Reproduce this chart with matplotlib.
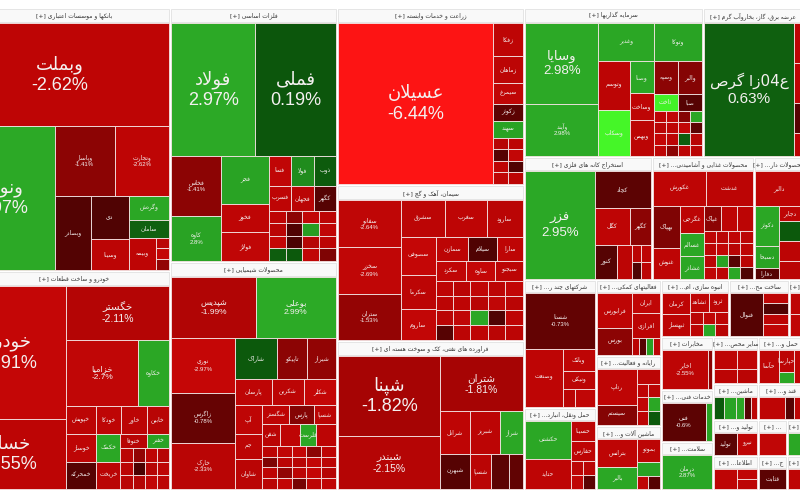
import re
import numpy as np
import matplotlib
matplotlib.use("Agg")
import matplotlib.pyplot as plt
from matplotlib.patches import Rectangle


# tree helpers: H = side by side, V = stacked, T = one symbol,
# G = rows of equal-sized symbols, S = sector with a header band
def H(*kids): return ("H", kids)
def V(*kids): return ("V", kids)
def T(pct, name="", style=None): return ("T", pct, name, style)
def G(*rows): return ("G", rows)
def S(title, body, cut=False, hdr=13): return ("S", title, body, cut, hdr)


# ---------------- data (weights = relative tile size, pct = daily change) ----
BANKS = S("بانکها و موسسات اعتباری", V(
    (103, T(-2.62, "وبملت", "big")),
    (144, H(
        (104, T(2.97, "ونوین", "big")),
        (115, V(
            (70, H((60, T(-1.41, "وپاسار", "pct")), (54, T(-2.62, "وتجارت", "pct")))),
            (74, H(
                (36, T(-0.45, "وبصادر", "lbl")),
                (38, V((43, T(-0.40, "دی", "lbl")), (31, T(-2.50, "وسینا", "lbl")))),
                (40, V((24, T(2.90, "وگردش", "lbl")), (18, T(0.70, "سامان", "lbl")),
                       (32, H((27, T(-2.60, "وبیمه", "lbl")), (13, G([-2.4], [-2.9], [-1.5])))))),
            )),
        )),
    )),
))

AUTO = S("خودرو و ساخت قطعات", H(
    (115, V((133, T(-2.91, "خودرو", "big")), (70, T(-2.55, "خساپا", "big")))),
    (103, V(
        (54, T(-2.11, "خگستر", "med")),
        (66, H((71, T(-2.70, "خزامیا", "med2")), (30, T(2.90, "خکاوه", "lbl")))),
        (83, V(
            (28, H((30, T(-2.5, "خپویش", "lbl")), (25, T(-2.6, "خودکا", "lbl")),
                   (25, T(-2.5, "خاور", "lbl")), (22, T(-2.3, "خابین", "lbl")))),
            (28, H((30, T(-2.6, "خوساز", "lbl")), (24, T(2.9, "خکمک", "lbl")),
                   (48, V((14, H((26, T(-2.3, "ختوقا", "lbl")), (22, T(2.8, "خفنر", "lbl")))),
                          (14, G([-2.4, -1.5, -2.6, -2.2])))))),
            (27, H((30, T(-0.5, "خمحرکه", "lbl")), (24, T(-2.4, "خریخت", "lbl")),
                   (48, G([-2.5, -0.3, -2.2, -2.6], [-2.4, -2.1, -2.8, -2.5])))),
        )),
    )),
))

METALS = S("فلزات اساسی", V(
    (133, H((84, T(2.97, "فولاد", "big")), (81, T(0.19, "فملی", "big")))),
    (105, H(
        (50, V((60, T(-1.41, "فخاس", "pct")), (45, T(2.80, "کاوه", "pct")))),
        (48, V((48, T(2.8, "فجر", "lbl")), (28, T(-2.6, "فخوز", "lbl")), (29, T(-2.7, "فولاژ", "lbl")))),
        (67, V(
            (30, H((22, T(-2.7, "فسا", "lbl")), (23, T(2.1, "فولا", "lbl")), (22, T(0.4, "ذوب", "lbl")))),
            (25, H((22, T(-2.6, "فسرب", "lbl")), (23, T(-2.4, "فجهان", "lbl")), (22, T(-0.5, "کگهر", "lbl")))),
            (50, G([-2.6, -1.4, -2.8, -2.5], [-2.4, -0.4, 2.6, -2.7],
                   [-2.9, -0.3, -2.2, -2.5], [0.5, 0.3, -2.7, -1.2])),
        )),
    )),
))

CHEMICAL = S("محصولات شیمیایی", V(
    (61, H((85, T(-1.99, "شپدیس", "med2")), (80, T(2.99, "بوعلی", "med2")))),
    (151, H(
        (64, V((55, T(-2.97, "نوری", "pct")), (50, T(-0.78, "زاگرس", "pct")), (46, T(-2.33, "خارک", "pct")))),
        (101, V(
            (41, H((42, T(0.3, "شاراک", "lbl")), (30, T(-1.4, "تاپیکو", "lbl")), (29, T(-1.5, "شیراز", "lbl")))),
            (26, H((37, T(-2.6, "پارسان", "lbl")), (32, T(-2.5, "شکربن", "lbl")), (32, T(-2.9, "شکلر", "lbl")))),
            (84, H(
                (27, V((29, T(-2.6, "آپ", "lbl")), (25, T(-2.5, "جم", "lbl")), (30, T(-2.4, "شاوان", "lbl")))),
                (74, V(
                    (19, H((27, T(-2.6, "شگستر", "lbl")), (25, T(-1.3, "پارس", "lbl")), (22, T(-2.5, "شسپا", "lbl")))),
                    (22, H((18, T(-2.4, "شفن", "lbl")), (20, T(-2.6)), (16, T(2.9, "قلرست", "lbl")), (20, T(-2.5)))),
                    (43, G([-2.5, -2.7, -2.9, -1.4, -2.6], [-1.2, -2.4, -2.3, -2.8, -2.5],
                           [-2.6, -1.5, -2.5, -2.9, -2.2], [-2.4, -2.8, -1.1, -2.5, -2.7])),
                )),
            )),
        )),
    )),
))

AGRI = S("زراعت و خدمات وابسته", H(
    (156, T(-6.44, "عسیلان", "big")),
    (30, V((33, T(-2.6, "زفکا", "lbl")), (27, T(-2.5, "زماهان", "lbl")), (21, T(-2.7, "سیمرغ", "lbl")),
           (17, T(-0.6, "زکوثر", "lbl")), (17, T(2.8, "سهند", "lbl")),
           (46, G([-2.2, -2.5], [-0.5, -2.8], [-2.6, -0.4], [-2.7, -2.5])))),
))

CEMENT = S("سیمان، آهک و گچ", H(
    (63, V((47, T(-2.64, "سفانو", "pct")), (46, T(-2.69, "سخزر", "pct")), (45, T(-1.53, "ستران", "pct")))),
    (123, V(
        (37, H((43, T(-2.5, "سشرق", "lbl")), (40, T(-2.6, "سغرب", "lbl")), (35, T(-2.4, "سارود", "lbl")))),
        (103, H(
            (34, V((37, T(-2.9, "سصوفی", "lbl")), (34, T(-2.5, "سکرما", "lbl")), (30, T(-2.8, "ساروم", "lbl")))),
            (85, V(
                (24, H((32, T(-2.5, "سمازن", "lbl")), (28, T(-0.4, "سیلام", "lbl")), (25, T(-2.6, "سارا", "lbl")))),
                (20, H((30, T(-2.7, "سکرد", "lbl")), (28, T(-2.9, "ساوه", "lbl")), (27, T(-2.5, "سبجنو", "lbl")))),
                (59, G([-2.6, -2.4, -2.7, -2.5, -2.8], [-2.5, -2.6, -2.3, -2.7, -2.4],
                       [-2.4, -2.7, 2.9, -0.4, -2.6], [-0.5, -2.5, -2.6, -2.4, -2.5])),
            )),
        )),
    )),
))

REFINERY = S("فراورده های نفتی، کک و سوخت هسته ای", H(
    (103, V((80, T(-1.82, "شپنا", "big")), (53, T(-2.15, "شبندر", "med")))),
    (83, V(
        (55, T(-1.81, "شتران", "med")),
        (78, V(
            (43, H((29, T(-2.6, "شرانل", "lbl")), (30, T(-2.5, "شبریز", "lbl")), (22, T(2.9, "شراز", "lbl")))),
            (35, H((29, T(-0.5, "شبهرن", "lbl")), (21, T(-2.4, "شسپا", "lbl")), (17, T(-0.6)), (14, T(-0.7)))),
        )),
    )),
))

INVEST = S("سرمایه گذاریها", H(
    (73, V((81, T(2.98, "وسایا", "mid")), (52, T(2.98, "وآیند", "pct")))),
    (103, V(
        (38, H((55, T(2.9, "وغدیر", "lbl")), (48, T(2.8, "وتوکا", "lbl")))),
        (95, H(
            (31, V((48, T(-2.5, "وتوسم", "lbl")), (45, T(4.9, "وسکاب", "lbl")))),
            (24, V((32, T(2.9, "وصنا", "lbl")), (26, T(-2.6, "وساخت", "lbl")), (35, T(-2.5, "وبهمن", "lbl")))),
            (48, V((33, H((24, T(-1.4, "وسپه", "lbl")), (24, T(-1.3, "والبر", "lbl")))),
                   (17, H((24, T(4.8, "ثاخت", "lbl")), (24, T(-0.5, "صبا", "lbl")))),
                   (45, G([-2.5, -2.7, -1.3, 2.9], [-2.4, -2.6, -2.8, -0.6],
                          [-2.9, -2.5, 0.5, -2.3], [-2.6, -1.4, -2.5, -2.4])))),
        )),
    )),
))

POWER = S("عرضه برق، گاز، بخاروآب گرم", H(
    (91, T(0.63, "ع04زا گرص", "big2")),
    (8, V((40, T(-2.5)), (40, T(-2.6)), (30, T(-0.5)), (23, T(-2.4)))),
))

MINING = S("استخراج کانه های فلزی", H(
    (68, T(2.95, "فزر", "mid")),
    (55, V((37, T(-0.6, "کچاد", "lbl")),
           (37, H((33, T(-2.6, "کگل", "lbl")), (20, T(-1.4, "کگهر", "lbl")))),
           (34, H((21, T(-0.5, "کنور", "lbl")), (14, T(-2.5)), (18, G([-2.4, -2.6], [-0.4, -2.5])))))),
), hdr=12)

FOOD = S("محصولات غذایی و آشامیدنی", V(
    (35, H((52, T(-2.6, "غکورش", "lbl")), (47, T(-2.5, "غدشت", "lbl")))),
    (73, H(
        (27, V((42, T(-1.2, "بهپاک", "lbl")), (31, T(-2.6, "غنوش", "lbl")))),
        (23, V((27, T(-2.5, "غگرجی", "lbl")), (23, T(2.9, "غسالم", "lbl")), (23, T(2.9, "غشاذر", "lbl")))),
        (49, V((25, H((17, T(-1.4, "غپاک", "lbl")), (16, T(-2.6)), (16, T(-2.5)))),
               (48, G([-2.6, -2.4, -2.7, -2.5], [-2.5, -2.8, -2.3, -2.6],
                      [-2.4, 2.8, -0.5, -2.4], [-2.7, -2.5, 2.9, -0.4])))),
    )),
), cut=True, hdr=12)

PHARMA = S("محصولات دار", V(
    (35, T(-2.6, "دالبر", "lbl")),
    (73, H((23, V((40, T(2.9, "دکوثر", "lbl")), (22, T(2.8, "دسبحا", "lbl")), (11, T(-0.5, "دفارا", "lbl")))),
           (23, V((15, T(-2.6, "دجابر", "lbl")), (20, T(0.3)), (20, T(-2.5)), (18, T(-2.4)))))),
), cut=True, hdr=12)

MULTI = S("شرکتهای چند ر", V(
    (55, T(-0.73, "شستا", "pct")),
    (57, H((37, T(-2.6, "وصنعت", "lbl")),
           (32, V((22, T(-2.6, "وبانک", "lbl")), (18, T(-2.5, "ونیکی", "lbl")),
                  (17, H((12, T(-2.4)), (20, T(-2.7)))))))),
), cut=True, hdr=11)

TRANSPORT = S("حمل ونقل، انبارد", H(
    (46, V((38, T(2.9, "حکشتی", "lbl")), (30, T(-2.6, "حتاید", "lbl")))),
    (24, V((20, T(-2.5, "حسینا", "lbl")), (20, T(-2.6, "حفارس", "lbl")), (28, G([-2.5, -2.4], [-2.7, -0.6])))),
), cut=True, hdr=11)

FINAID = S("فعالیتهای کمکی", H(
    (35, V((35, T(-2.6, "فرابورس", "lbl")), (27, T(-1.4, "بورس", "lbl")))),
    (28, V((20, T(-2.7, "ایران", "lbl")), (25, T(-2.5, "افرازی", "lbl")), (17, G([-2.4, -0.5, 2.7, -2.5])))),
), cut=True, hdr=11)

COMPUTER = S("رایانه و فعالیت", H(
    (40, V((36, T(-2.6, "رتاپ", "lbl")), (20, T(-1.3, "سیستم", "lbl")))),
    (23, V((15, T(-2.5)), (41, G([-2.6, -2.4], [-2.7, 2.9], [-2.5, 0.3])))),
), cut=True, hdr=11)

MACHINE = S("ماشین آلات و", H(
    (40, V((28, T(-2.6, "بترانس", "lbl")), (22, T(2.9, "بالبر", "lbl")))),
    (23, V((23, T(-2.5, "بموتو", "lbl")), (14, T(2.8)), (13, G([-2.6, -0.5])))),
), cut=True, hdr=11)

MASS = S("انبوه سازی، ام", H(
    (28, V((22, T(-2.6, "کرمان", "lbl")), (22, T(-2.5, "ثبهساز", "lbl")))),
    (37, V((20, H((17, T(-2.6, "ثشاهد", "lbl")), (18, T(-2.5, "ثرود", "lbl")))),
           (24, G([-2.4, -2.7, -2.6], [-2.5, 2.9, -2.3])))),
), cut=True, hdr=11)

METALPROD = S("ساخت مح", H(
    (33, T(-0.5, "فنوال", "lbl")),
    (25, V((10, T(-2.6)), (12, T(-0.4)), (10, T(-2.5)), (12, T(-2.7)))),
), cut=True, hdr=11)

SMALL_A = S("", V((22, T(-2.6)), (22, T(-2.7))), hdr=11)
TELECOM = S("مخابرات", H((47, T(-2.55, "اخابر", "pct")), (4, T(-1.4))), hdr=11)
ENGINEER = S("خدمات فنی", H((43, T(-0.60, "فنی", "pct")), (6, T(2.8))), cut=True, hdr=11)
HEALTH = S("سلامت", T(2.87, "درمان", "pct"), cut=True, hdr=11)
CERAMIC = S("سایر محص", H((22, V((20, T(-2.6)), (14, T(-2.5)))), (20, V((20, T(-2.7)), (14, T(-2.4))))), cut=True, hdr=11)
MACH2 = S("ماشین", H((10, T(0.3)), (12, T(2.8)), (9, T(2.9)), (7, T(-0.5)), (6, T(-2.5))), cut=True, hdr=11)
PRODUCE = S("تولید و", H((22, T(-0.6, "تولید", "lbl")), (20, T(-2.6, "نیرو", "lbl"))), cut=True, hdr=11)
INFO = S("اطلاعا", H((22, T(-2.6)), (20, V((10, T(-2.7)), (10, T(-2.5))))), cut=True, hdr=11)
TRANSIT = S("حمل و", H((20, T(-2.6, "حآسا", "lbl")), (15, V((22, T(-2.5, "حپارسا", "lbl")), (11, T(2.9)))), (8, T(-2.6))), cut=True, hdr=11)
SUGAR = S("قند و", H((27, T(-2.6)), (10, T(-0.5)), (8, T(-2.6))), cut=True, hdr=11)
SM_B = S("", T(-2.7), cut=True, hdr=11)
SM_C = S("", T(2.9), hdr=11)
SM_D = S("ج", T(-0.6, "قثابت", "lbl"), cut=True, hdr=11)
SM_E = S("", T(-2.6), hdr=11)

COL1 = V((263, BANKS), (219, AUTO))
COL2 = V((254, METALS), (228, CHEMICAL))
COL3 = V((177, AGRI), (156, CEMENT), (149, REFINERY))
ROW1 = H((179, INVEST), (100, POWER))
ROW2 = H((128, MINING), (102, FOOD), (49, PHARMA))
ROW3 = H(
    (72, V((128, MULTI), (82, TRANSPORT))),
    (65, V((76, FINAID), (70, COMPUTER), (64, MACHINE))),
    (142, V(
        (57, H((68, MASS), (60, METALPROD), (14, SMALL_A))),
        (153, H(
            (52, V((53, TELECOM), (52, ENGINEER), (48, HEALTH))),
            (45, V((47, CERAMIC), (36, MACH2), (36, PRODUCE), (34, INFO))),
            (45, V((47, TRANSIT), (36, SUGAR), (36, H((29, SM_B), (16, SM_C))),
                   (34, H((29, SM_D), (16, SM_E))))),
        )),
    )),
)
COL4 = V((149, ROW1), (123, ROW2), (210, ROW3))
MARKET = H((220, COL1), (167, COL2), (187, COL3), (279, COL4))

# ---------------- Persian shaping (matplotlib has no RTL support) ------------
FORMS = {
    "ا": (0xFE8D, 0xFE8E), "آ": (0xFE81, 0xFE82), "أ": (0xFE83, 0xFE84),
    "ب": (0xFE8F, 0xFE90, 0xFE91, 0xFE92), "پ": (0xFB56, 0xFB57, 0xFB58, 0xFB59),
    "ت": (0xFE95, 0xFE96, 0xFE97, 0xFE98), "ث": (0xFE99, 0xFE9A, 0xFE9B, 0xFE9C),
    "ج": (0xFE9D, 0xFE9E, 0xFE9F, 0xFEA0), "چ": (0xFB7A, 0xFB7B, 0xFB7C, 0xFB7D),
    "ح": (0xFEA1, 0xFEA2, 0xFEA3, 0xFEA4), "خ": (0xFEA5, 0xFEA6, 0xFEA7, 0xFEA8),
    "د": (0xFEA9, 0xFEAA), "ذ": (0xFEAB, 0xFEAC), "ر": (0xFEAD, 0xFEAE),
    "ز": (0xFEAF, 0xFEB0), "ژ": (0xFB8A, 0xFB8B),
    "س": (0xFEB1, 0xFEB2, 0xFEB3, 0xFEB4), "ش": (0xFEB5, 0xFEB6, 0xFEB7, 0xFEB8),
    "ص": (0xFEB9, 0xFEBA, 0xFEBB, 0xFEBC), "ض": (0xFEBD, 0xFEBE, 0xFEBF, 0xFEC0),
    "ط": (0xFEC1, 0xFEC2, 0xFEC3, 0xFEC4), "ظ": (0xFEC5, 0xFEC6, 0xFEC7, 0xFEC8),
    "ع": (0xFEC9, 0xFECA, 0xFECB, 0xFECC), "غ": (0xFECD, 0xFECE, 0xFECF, 0xFED0),
    "ف": (0xFED1, 0xFED2, 0xFED3, 0xFED4), "ق": (0xFED5, 0xFED6, 0xFED7, 0xFED8),
    "ک": (0xFB8E, 0xFB8F, 0xFB90, 0xFB91), "گ": (0xFB92, 0xFB93, 0xFB94, 0xFB95),
    "ل": (0xFEDD, 0xFEDE, 0xFEDF, 0xFEE0), "م": (0xFEE1, 0xFEE2, 0xFEE3, 0xFEE4),
    "ن": (0xFEE5, 0xFEE6, 0xFEE7, 0xFEE8), "و": (0xFEED, 0xFEEE),
    "ه": (0xFEE9, 0xFEEA, 0xFEEB, 0xFEEC), "ی": (0xFBFC, 0xFBFD, 0xFBFE, 0xFBFF),
}
LAM_ALEF = {"ا": (0xFEFB, 0xFEFC), "آ": (0xFEF5, 0xFEF6), "أ": (0xFEF7, 0xFEF8)}


def _fwd(ch):
    return ch in FORMS and len(FORMS[ch]) == 4


def shape(s):
    out, i, n = [], 0, len(s)
    while i < n:
        c = s[i]
        jp = i > 0 and _fwd(s[i - 1])
        if c == "ل" and i + 1 < n and s[i + 1] in LAM_ALEF:
            iso, fin = LAM_ALEF[s[i + 1]]
            out.append(chr(fin if jp else iso))
            i += 2
            continue
        if c in FORMS:
            f = FORMS[c]
            jn = len(f) == 4 and i + 1 < n and s[i + 1] in FORMS
            out.append(chr(f[3] if jp and jn else f[1] if jp else f[2] if jn else f[0]))
        else:
            out.append(c)
        i += 1
    return "".join(out)


def fa(s):
    v = shape(s)[::-1]
    return re.sub(r"[0-9A-Za-z.%+\-]+", lambda m: m.group(0)[::-1], v)


# ---------------- colours ----------------------------------------------------
def tile_color(p):
    if p < 0:
        q = -p
        r = np.interp(q, [0, 1, 2, 3, 5, 6.5], [0x3a, 0x72, 0xb2, 0xc6, 0xd6, 0xff])
        gb = np.interp(q, [0, 3, 6.5], [0x02, 0x06, 0x14])
        return (r / 255, gb / 255, gb / 255)
    r = np.interp(p, [0, 1, 3, 5], [10, 18, 44, 70])
    g = np.interp(p, [0, 1, 3, 5], [82, 104, 170, 250])
    b = np.interp(p, [0, 1, 3, 5], [10, 18, 38, 40])
    return (r / 255, g / 255, b / 255)


def pct_text(p):
    return f"{p:.2f}".rstrip("0").rstrip(".") + "%"


PAD = 1.2
EDGE = "#f4e4e4"
FS = {"big": 13, "big2": 11, "mid": 9.5, "med": 7.5, "med2": 6.0, "pct": 4.3, "lbl": 4.3}
FA_FONT = ["DejaVu Sans"]
NUM_FONT = ["Liberation Sans", "DejaVu Sans"]

fig = plt.figure(figsize=(8, 5), dpi=100)
ax = fig.add_axes([0, 0, 1, 1])
ax.set_xlim(0, 800)
ax.set_ylim(500, 0)
ax.axis("off")


def draw_tile(x0, y0, x1, y1, pct, name, style):
    ax.add_patch(Rectangle((x0, y0), x1 - x0, y1 - y0, facecolor=tile_color(pct),
                           edgecolor=EDGE, lw=0.6))
    if not style:
        return
    fs = FS[style]
    cx, cy = (x0 + x1) / 2, (y0 + y1) / 2
    px = fs * 100 / 72
    if style == "lbl":
        ax.text(cx, cy, fa(name), fontsize=fs, family=FA_FONT, color="#f4f0f0",
                ha="center", va="center")
        return
    ax.text(cx, cy - 0.55 * px, fa(name), fontsize=fs, family=FA_FONT, color="#f4f0f0",
            ha="center", va="center")
    ax.text(cx, cy + 0.62 * px, pct_text(pct), fontsize=fs, family=NUM_FONT,
            color="#f4f0f0", ha="center", va="center")


def place(node, x0, y0, x1, y1):
    kind = node[0]
    if kind == "T":
        draw_tile(x0, y0, x1, y1, *node[1:])
    elif kind in ("H", "V"):
        kids = node[1]
        total = sum(w for w, _ in kids)
        pos = x0 if kind == "H" else y0
        span = (x1 - x0) if kind == "H" else (y1 - y0)
        for w, child in kids:
            step = span * w / total
            if kind == "H":
                place(child, pos, y0, pos + step, y1)
            else:
                place(child, x0, pos, x1, pos + step)
            pos += step
    elif kind == "G":
        rows = node[1]
        rh = (y1 - y0) / len(rows)
        for r, row in enumerate(rows):
            cw = (x1 - x0) / len(row)
            for c, p in enumerate(row):
                draw_tile(x0 + c * cw, y0 + r * rh, x0 + (c + 1) * cw, y0 + (r + 1) * rh,
                          p, "", None)
    elif kind == "S":
        title, body, cut, hdr = node[1:]
        bx0, by0, bx1, by1 = x0 + PAD, y0 + PAD, x1 - PAD, y1 - PAD
        ax.add_patch(Rectangle((bx0, by0), bx1 - bx0, hdr, facecolor="#f9f9f9",
                               edgecolor="#d4d4d4", lw=0.4))
        label = "[+] " + ("..." if cut else "") + fa(title)
        tx = (max(bx0, -20) + min(bx1, 806)) / 2
        ax.text(tx, by0 + hdr / 2, label, fontsize=4.3, family=FA_FONT, color="#333333",
                ha="center", va="center", clip_on=True)
        place(body, bx0, by0 + hdr + 0.6, bx1, by1)


place(MARKET, -50, 8, 803, 490)

fig.savefig("out.png", dpi=100, facecolor="white")
